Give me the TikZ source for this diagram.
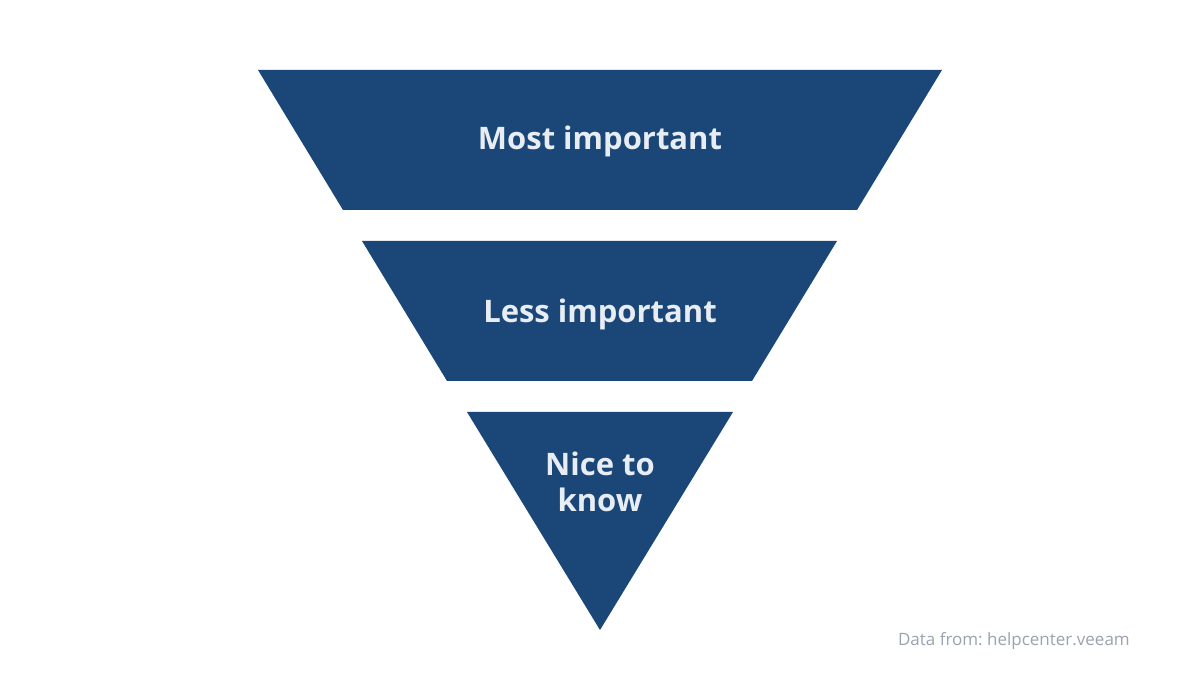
\documentclass[tikz,border=0pt]{standalone}
\usepackage{fontspec}
\setmainfont{Open Sans}
\frenchspacing
\definecolor{funnel}{HTML}{1A4778}
\definecolor{lbl}{HTML}{E8EDF3}
\definecolor{src}{HTML}{9AA3AE}
\begin{document}
\begin{tikzpicture}[x=1pt,y=-1pt,
  seg/.style={fill=funnel,draw=none},
  lab/.style={text=lbl,font=\fontsize{31}{36}\selectfont\bfseries,align=center,inner sep=0pt},
  note/.style={text=src,font=\fontsize{17}{21}\selectfont,inner sep=0pt,anchor=east}]
\useasboundingbox (0,0) rectangle (1200,700);
\fill[white] (0,0) rectangle (1200,700);
\fill[seg] (258,70) -- (942,70) -- (857,210) -- (343,210) -- cycle;
\fill[seg] (362,241) -- (837,241) -- (752,381) -- (447,381) -- cycle;
\fill[seg] (467,412) -- (733,412) -- (600,630) -- cycle;
\node[lab] (top) at (600,141) {Most important};
\node[lab] (mid) at (600,314) {Less important};
\node[lab] (bot) at (600,482) {Nice to\\know};
\node[note] (data) at (1130,641) {Data from: helpcenter.veeam};
\end{tikzpicture}
\end{document}
